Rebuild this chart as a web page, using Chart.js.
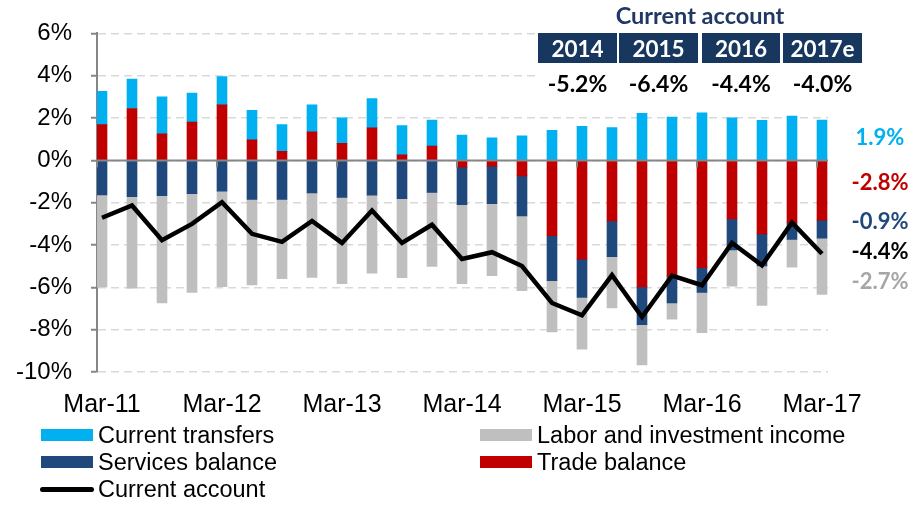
<!DOCTYPE html>
<html><head><meta charset="utf-8">
<script src="https://cdn.jsdelivr.net/npm/chart.js@4.4.1/dist/chart.umd.min.js"></script>
<style>
html,body{margin:0;padding:0;background:#fff;}
#wrap{position:relative;width:924px;height:505px;overflow:hidden;}
#c{position:absolute;left:0;top:0;}
.lgt{position:absolute;font-family:"Liberation Sans",Arial,sans-serif;font-size:23.5px;color:#000;line-height:28px;white-space:nowrap;}
.sw{position:absolute;}
</style></head>
<body>
<div id="wrap"><canvas id="c" width="924" height="505"></canvas><div id="legend"></div></div>
<script>
// ---- data ----
const categories = ["Mar-11","Jun-11","Sep-11","Dec-11","Mar-12","Jun-12","Sep-12","Dec-12",
  "Mar-13","Jun-13","Sep-13","Dec-13","Mar-14","Jun-14","Sep-14","Dec-14",
  "Mar-15","Jun-15","Sep-15","Dec-15","Mar-16","Jun-16","Sep-16","Dec-16","Mar-17"];
const currentTransfers = [1.57,1.39,1.74,1.37,1.34,1.39,1.26,1.27,1.20,1.38,1.38,1.22,1.20,1.07,1.16,1.42,1.61,1.55,2.22,2.04,2.25,2.01,1.89,2.09,1.90];
const tradeBalance = [1.69,2.45,1.26,1.81,2.62,0.97,0.43,1.35,0.81,1.54,0.26,0.68,-0.32,-0.27,-0.73,-3.56,-4.67,-2.86,-5.98,-5.46,-5.07,-2.77,-3.47,-2.94,-2.83];
const servicesBalance = [-1.63,-1.72,-1.67,-1.57,-1.45,-1.84,-1.84,-1.54,-1.75,-1.64,-1.81,-1.51,-1.77,-1.78,-1.89,-2.13,-1.81,-1.69,-1.78,-1.28,-1.17,-1.46,-1.52,-0.79,-0.85];
const laborIncome = [-4.35,-4.32,-5.07,-4.67,-4.52,-4.05,-3.75,-3.99,-4.08,-3.69,-3.73,-3.50,-3.74,-3.40,-3.54,-2.42,-2.44,-2.42,-1.91,-0.76,-1.90,-1.71,-1.86,-1.32,-2.65];
const currentAccount = [-2.71,-2.13,-3.77,-3.00,-1.98,-3.47,-3.85,-2.86,-3.90,-2.37,-3.90,-3.04,-4.66,-4.34,-4.99,-6.74,-7.32,-5.42,-7.40,-5.45,-5.90,-3.90,-4.96,-2.94,-4.41];
const annualYears = ["2014","2015","2016","2017e"];
const annualCA = ["-5.2%","-6.4%","-4.4%","-4.0%"];
const endLabels = ["1.9%","-2.8%","-0.9%","-4.4%","-2.7%"];
const yTicks = [6,4,2,0,-2,-4,-6,-8,-10];

// ---- styles ----
const COL = {transfers:'#00B0F0', trade:'#C00000', services:'#1F497D', labor:'#BFBFBF', ca:'#000000'};
const pts = arr => arr.map((v,i)=>({x:i,y:v}));
const marIdx = categories.map((c,i)=>c.startsWith('Mar')?i:-1).filter(i=>i>=0);

const barDs = (label, arr, color, order) => ({type:'bar', label, data:pts(arr), backgroundColor:color,
  borderWidth:0, barThickness:10, stack:'bars', order});

const annot = {
  id:'annot',
  afterDatasetsDraw(chart){
    const {ctx, chartArea, scales:{x,y}} = chart;
    const y0 = y.getPixelForValue(0);
    ctx.save();
    ctx.strokeStyle = '#868686'; ctx.lineWidth = 2;
    ctx.beginPath(); ctx.moveTo(chartArea.left, y0); ctx.lineTo(chartArea.right, y0); ctx.stroke();
    marIdx.forEach(i=>{
      const px = x.getPixelForValue(i) - 5;
      ctx.beginPath(); ctx.moveTo(px, y0); ctx.lineTo(px, y0+7); ctx.stroke();
    });
    ctx.restore();
  },
  afterDraw(chart){
    const ctx = chart.ctx;
    const y = chart.scales.y;
    ctx.save();
    ctx.fillStyle = '#fff';
    ctx.fillRect(604, 3, 192, 27);
    ctx.fillRect(535, 31, 332, 70);
    ctx.font = 'bold 23.5px Lato, "Open Sans", sans-serif';
    ctx.fillStyle = '#1F3864'; ctx.textAlign = 'center'; ctx.textBaseline = 'alphabetic';
    ctx.fillText('Current account', 700, 24);
    const boxes = [[538,617],[619,698],[702,780],[783,862]];
    annualYears.forEach((yr,k)=>{
      const [a,b] = boxes[k];
      ctx.fillStyle = '#17375E';
      ctx.fillRect(a, 33, b-a, 30);
      ctx.fillStyle = '#fff';
      ctx.font = 'bold 22.5px Lato, "Open Sans", sans-serif';
      ctx.fillText(yr, (a+b)/2, 57);
      ctx.fillStyle = '#000';
      ctx.font = 'bold 23px Lato, "Open Sans", sans-serif';
      ctx.fillText(annualCA[k], (a+b)/2, 91.5);
    });
    const endCols = [COL.transfers, COL.trade, COL.services, '#000', '#A6A6A6'];
    const endPos = [1.11, -1.04, -2.87, -4.28, -5.7];
    ctx.font = 'bold 22px Lato, "Open Sans", sans-serif';
    endLabels.forEach((t,k)=>{
      ctx.fillStyle = endCols[k];
      ctx.fillText(t, 880, y.getPixelForValue(endPos[k]) + 8);
    });
    ctx.restore();
  }
};

const chart = new Chart(document.getElementById('c'), {
  data:{
    datasets:[
      {type:'line', label:'Current account', data:pts(currentAccount), borderColor:COL.ca, borderWidth:4.5,
        pointRadius:0, tension:0, fill:false, stack:'ca', order:0},
      barDs('Trade balance', tradeBalance, COL.trade, 1),
      barDs('Services balance', servicesBalance, COL.services, 2),
      barDs('Labor and investment income', laborIncome, COL.labor, 3),
      barDs('Current transfers', currentTransfers, COL.transfers, 4)
    ]
  },
  options:{
    responsive:false, animation:false, devicePixelRatio:1,
    layout:{padding:{top:21, right:96, bottom:93, left:0}},
    plugins:{legend:{display:false}, tooltip:{enabled:false}},
    scales:{
      x:{type:'linear', bounds:'data', offset:false, min:-0.1667, max:24.2, stacked:true,
        grid:{display:false, drawTicks:false, offset:false}, border:{display:false},
        afterBuildTicks: s => { s.ticks = marIdx.map(v=>({value:v})); },
        afterFit: s => { s.height = 40; },
        ticks:{autoSkip:false, maxRotation:0, padding:18, color:'#000', includeBounds:false,
          font:{family:'"Liberation Sans", Arial, sans-serif', size:25},
          callback: v => categories[v]}
      },
      y:{type:'linear', min:-10, max:6, stacked:true,
        afterBuildTicks: s => { s.ticks = yTicks.map(v=>({value:v})); },
        afterFit: s => { s.width = 97; },
        grid:{color: c => '#D9D9D9', lineWidth:1.5, tickLength:6, tickColor:'#868686', tickWidth:2, tickBorderDash:[]},
        border:{display:true, color:'#868686', width:2, dash: c => [8,5]},
        ticks:{padding:19, color:'#000', font:{family:'"Liberation Sans", Arial, sans-serif', size:24},
          callback: v => v + '%'}
      }
    }
  },
  plugins:[annot]
});

// ---- HTML legend ----
const legendOrder = ['Current transfers','Labor and investment income','Services balance','Trade balance','Current account'];
const legendColors = {'Current transfers':COL.transfers,'Labor and investment income':COL.labor,'Services balance':COL.services,'Trade balance':COL.trade,'Current account':COL.ca};
const colX = [41, 480], rowY = [435, 462, 489];
const lg = document.getElementById('legend');
legendOrder.forEach((name,k)=>{
  const cx = colX[k%2], cy = rowY[Math.floor(k/2)];
  const sw = document.createElement('div');
  sw.className = 'sw';
  if(name === 'Current account'){
    Object.assign(sw.style,{left:(cx-1)+'px', top:(cy-2.5)+'px', width:'54px', height:'5px', background:legendColors[name], borderRadius:'3px'});
  } else {
    Object.assign(sw.style,{left:cx+'px', top:(cy-6)+'px', width:'52px', height:'12px', background:legendColors[name]});
  }
  lg.appendChild(sw);
  const t = document.createElement('div');
  t.className = 'lgt'; t.textContent = name;
  Object.assign(t.style,{left:(cx+57)+'px', top:(cy-14)+'px'});
  lg.appendChild(t);
});
</script>
</body></html>
